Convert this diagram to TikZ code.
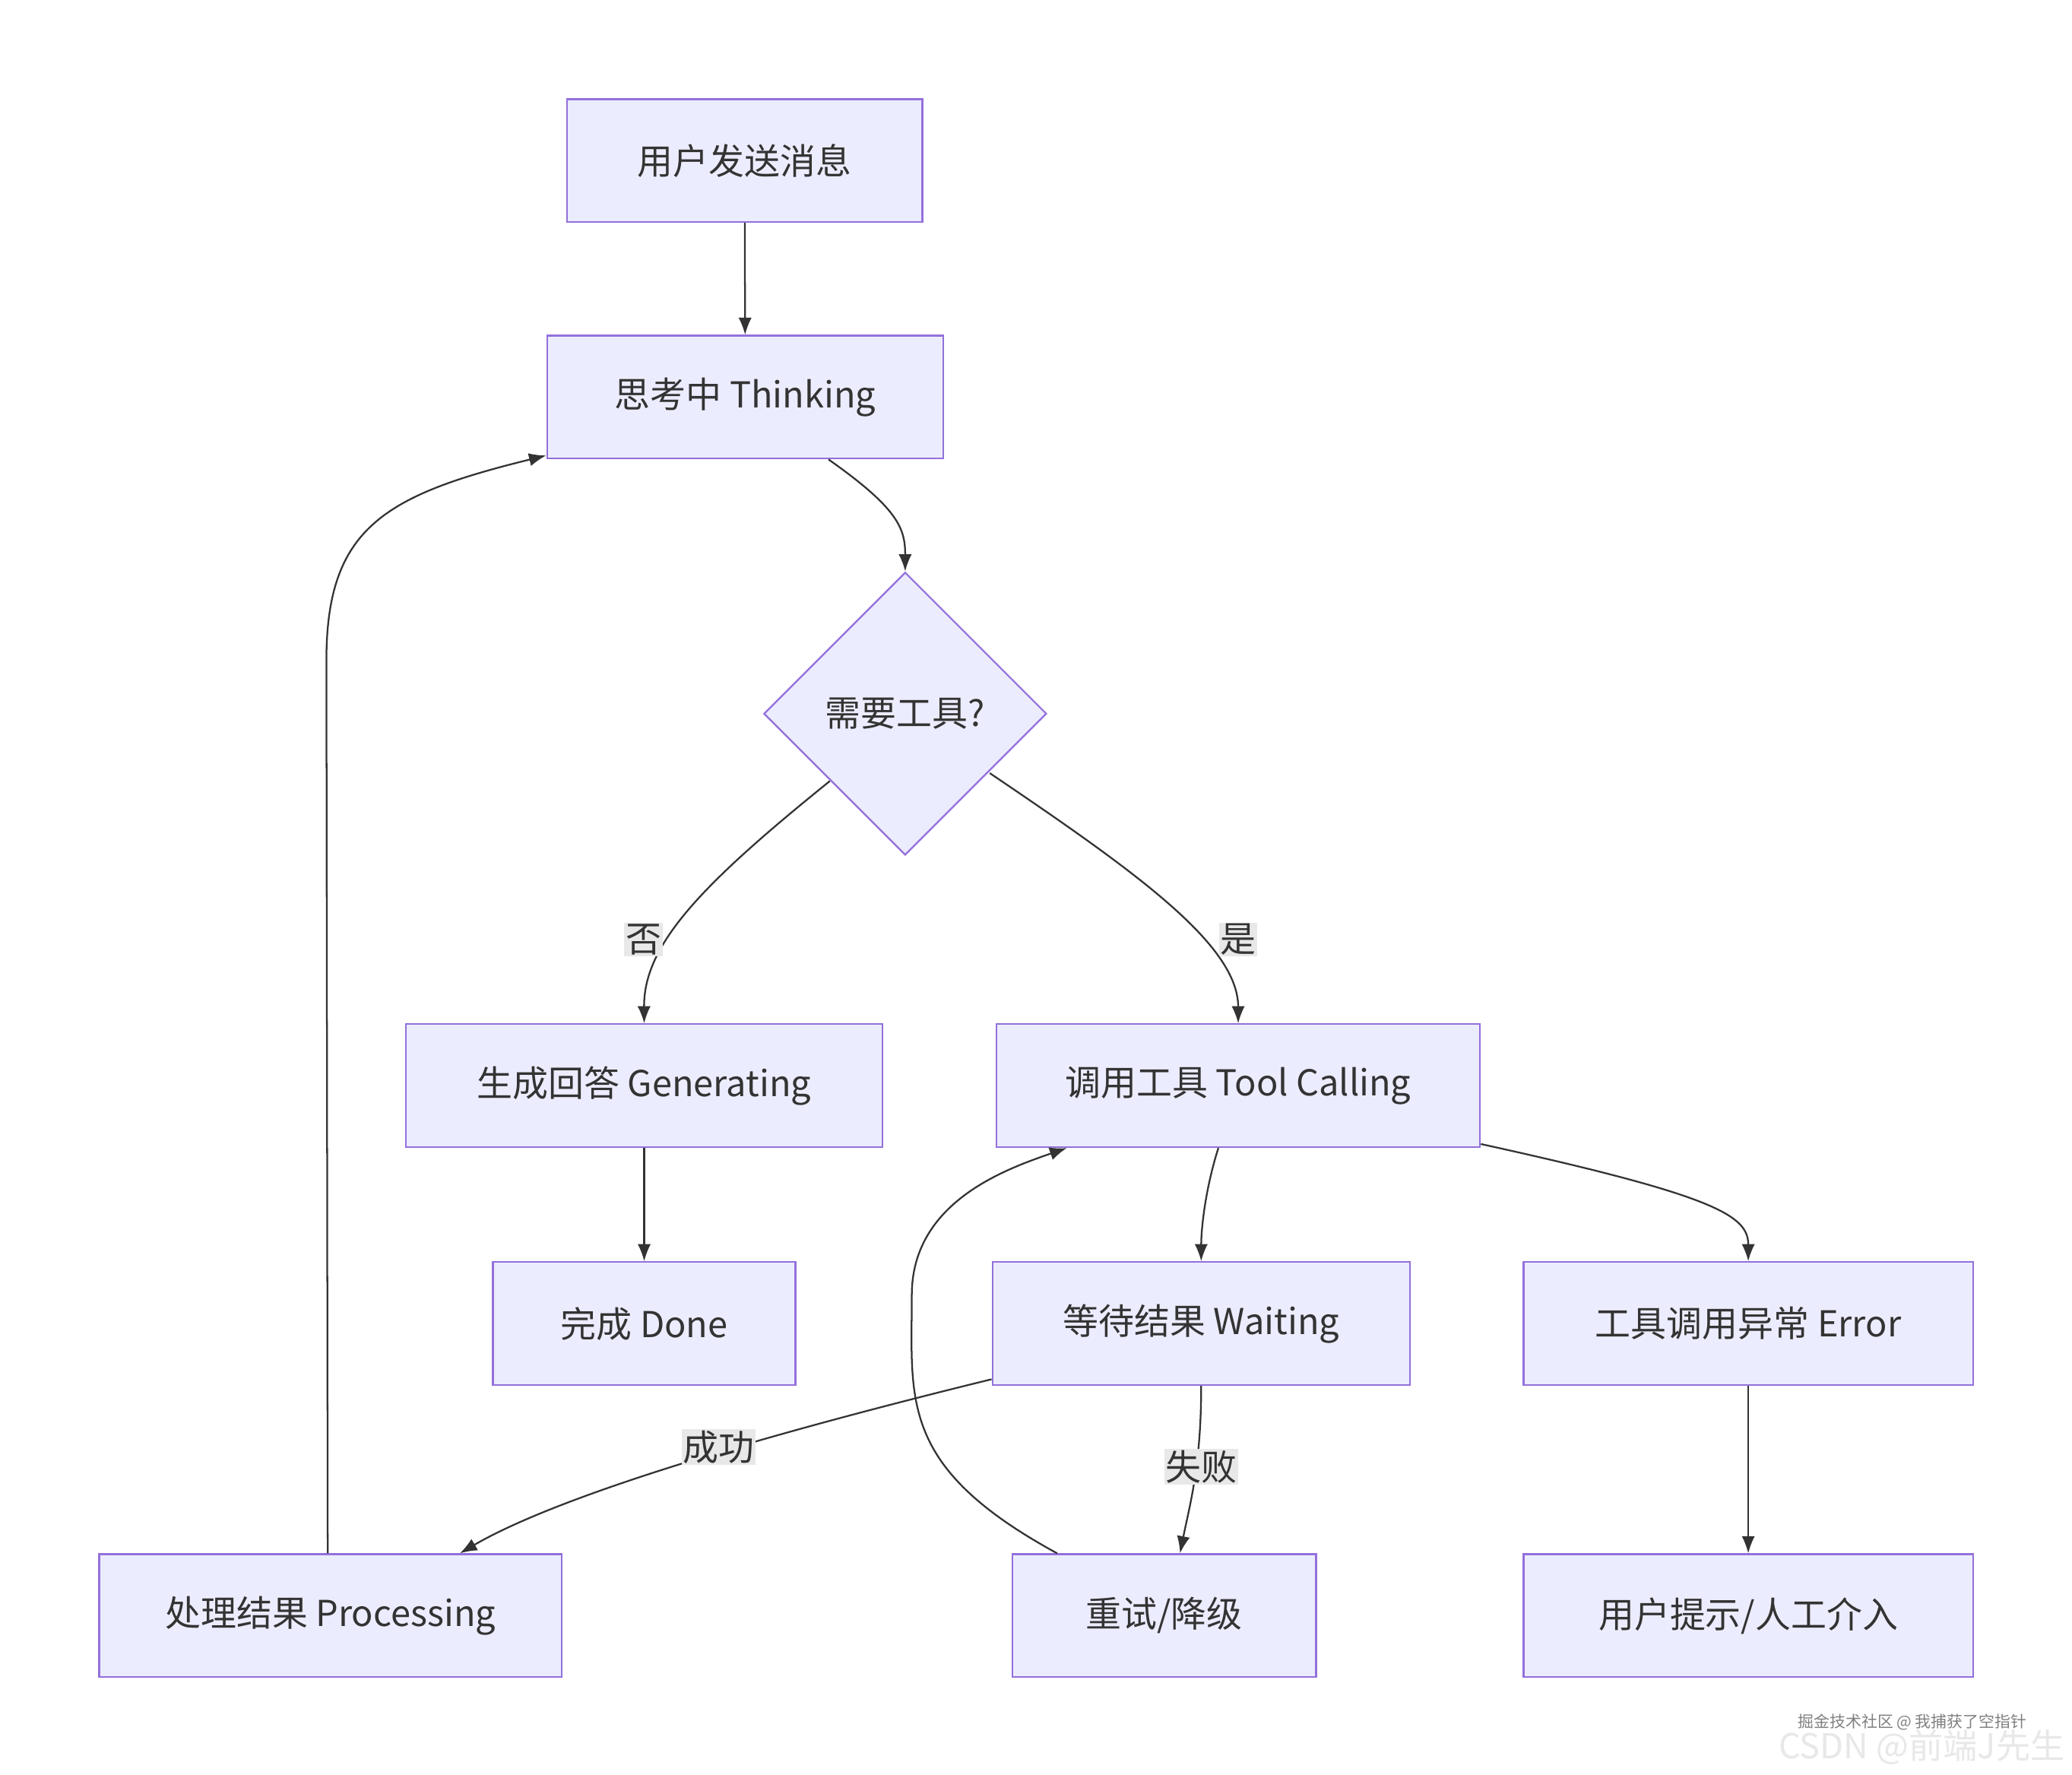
\documentclass[tikz,border=0pt]{standalone}
\usepackage{fontspec}
\setmainfont{Noto Sans CJK SC}
\usetikzlibrary{shapes.geometric,arrows.meta,calc}
\definecolor{nf}{HTML}{ECECFF}
\definecolor{nd}{HTML}{9370DB}
\definecolor{ln}{HTML}{333333}
\definecolor{lb}{HTML}{E8E8E8}
\begin{document}
\begin{tikzpicture}[x=1pt,y=-1pt,
  box/.style={draw=nd,fill=nf,line width=1.3pt,inner sep=0pt,font=\fontsize{27}{30}\selectfont,text=ln},
  dia/.style={draw=nd,fill=nf,line width=1.3pt,diamond,inner sep=0pt,minimum width=214pt,minimum height=214pt,font=\fontsize{27}{30}\selectfont,text=ln},
  ed/.style={draw=ln,line width=1.3pt,-{Latex[length=13pt,width=10pt]}},
  lab/.style={fill=lb,inner sep=1pt,font=\fontsize{27}{30}\selectfont,text=ln}]
\useasboundingbox (0,0) rectangle (1568,1343);
\fill[white] (0,0) rectangle (1568,1343);
\node[box,minimum width=269pt,minimum height=93pt] (A) at (563.5,121.5) {用户发送消息};
\node[box,minimum width=300pt,minimum height=93pt] (B) at (564,300.5) {思考中 Thinking};
\node[dia] (C) at (685,540) {需要工具?};
\node[box,minimum width=361pt,minimum height=93pt] (D) at (487.5,821.5) {生成回答 Generating};
\node[box,minimum width=366pt,minimum height=93pt] (E) at (937,821.5) {调用工具 Tool Calling};
\node[box,minimum width=229pt,minimum height=93pt] (F) at (487.5,1001.5) {完成 Done};
\node[box,minimum width=316pt,minimum height=93pt] (G) at (909,1001.5) {等待结果 Waiting};
\node[box,minimum width=340pt,minimum height=93pt] (H) at (1323,1001.5) {工具调用异常 Error};
\node[box,minimum width=350pt,minimum height=93pt] (I) at (250,1222.5) {处理结果 Processing};
\node[box,minimum width=230pt,minimum height=93pt] (J) at (881,1222.5) {重试/降级};
\node[box,minimum width=340pt,minimum height=93pt] (K) at (1323,1222.5) {用户提示/人工介入};

\draw[ed] (A) -- (B);
\draw[ed] ($(B.south)+(63,0)$) .. controls (680,385) and (685,400) .. (C.north);
\draw[ed] ($(C.center)+(-57,51)$) .. controls (530,670) and (487,715) .. (D.north);
\draw[ed] ($(C.center)+(64,45)$) .. controls (860,660) and (937,715) .. (E.north);
\draw[ed] (D) -- (F);
\draw[ed] ($(E.south)+(-15,0)$) .. controls (912,900) and (909,930) .. (G.north);
\draw[ed] ($(E.south east)+(0,-3)$) .. controls (1300,905) and (1323,920) .. (H.north);
\draw[ed] ($(G.south west)+(0,-5)$) .. controls (500,1105) and (400,1145) .. ($(I.north)+(98,0)$);
\draw[ed] (G.south) .. controls (909,1110) and (900,1140) .. ($(J.north)+(12,0)$);
\draw[ed] ($(J.north)+(-81,0)$) .. controls (680,1110) and (690,1060) .. (690,980) .. controls (690,910) and (760,885) .. ($(E.south west)+(54,0)$);
\draw[ed] ($(I.north)+(-2,0)$) -- (247,500) .. controls (247,400) and (290,375) .. ($(B.south west)+(0,-3)$);
\draw[ed] (H) -- (K);

\node[lab] (l1) at (487,711) {否};
\node[lab] (l2) at (937,711) {是};
\node[lab] (l3) at (544,1095) {成功};
\node[lab] (l4) at (909,1110) {失败};

\node[text=gray,font=\fontsize{12}{14}\selectfont,anchor=east] (w1) at (1537,1303) {掘金技术社区 @ 我捕获了空指针};
\node[text=lb,font=\fontsize{26}{30}\selectfont,anchor=east] (w2) at (1566,1322) {CSDN @前端J先生};
\end{tikzpicture}
\end{document}
